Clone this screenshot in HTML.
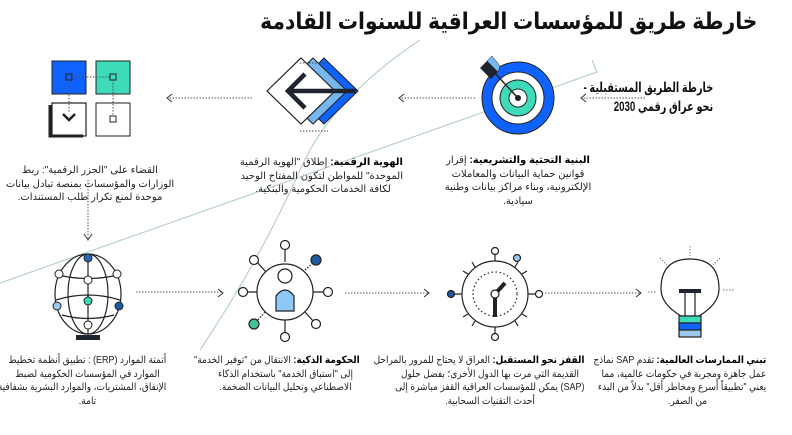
<!DOCTYPE html>
<html><head><meta charset="utf-8"><style>
body{margin:0;width:792px;height:435px;background:#fff;overflow:hidden;position:relative;font-family:"Liberation Sans","DejaVu Sans",sans-serif;}
.t{position:absolute;direction:rtl;text-align:center;font-size:10px;line-height:13.5px;color:#222;white-space:nowrap;}
.t b{color:#000}
.s{transform:scaleX(0.9);transform-origin:center top}
</style></head><body>
<svg width="792" height="435" style="position:absolute;left:0;top:0">
<path d="M0 283 L597 72 L592 60" stroke="#b8d4c0" stroke-width="1.2" fill="none"/>
<path d="M420 40 Q330 100 300 170 Q260 260 200 350" stroke="#b8d4c0" stroke-width="1.2" fill="none"/>
<rect x="52" y="61" width="34" height="33" fill="#0f62fe" stroke="#222" stroke-width="1"/>
<rect x="96" y="61" width="34" height="33" fill="#3ddbb9" stroke="#222" stroke-width="1"/>
<rect x="52" y="103" width="34" height="33" fill="#fff" stroke="#222" stroke-width="1.2"/>
<path d="M50 105 V136 H83" stroke="#222" stroke-width="3" fill="none"/>
<rect x="96" y="103" width="34" height="33" fill="#fff" stroke="#222" stroke-width="1"/>
<rect x="66" y="74" width="6" height="6" fill="none" stroke="#222"/>
<rect x="110" y="74" width="6" height="6" fill="none" stroke="#222"/>
<rect x="110" y="116" width="6" height="6" fill="none" stroke="#222"/>
<path d="M72 77 H110 M69 80 V112 M113 80 V116" stroke="#555" stroke-dasharray="1.5 1.5" fill="none"/>
<path d="M63 114 L69 120 L75 114" stroke="#222" stroke-width="2.5" fill="none"/>
<polygon points="324,58 358,91 324,124 290,91" fill="#0f62fe" stroke="#222"/>
<polygon points="313,58 347,91 313,124 279,91" fill="#78b6f0" stroke="#222"/>
<polygon points="301,58 335,91 301,124 267,91" fill="#fff" stroke="#222" stroke-width="1.2"/>
<path d="M305 74 L288 91 L305 108 M288 91 H356" stroke="#1f2430" stroke-width="4.5" fill="none"/>
<path d="M300 63 H328 M300 131 H328" stroke="#444" stroke-dasharray="1.5 1.5"/>
<circle cx="518" cy="98" r="36" fill="#0f62fe" stroke="#222"/>
<circle cx="518" cy="98" r="26" fill="#fff" stroke="#222"/>
<circle cx="518" cy="98" r="18" fill="#3ddbb9" stroke="#222"/>
<circle cx="518" cy="98" r="9" fill="#fff" stroke="#222"/>
<circle cx="518" cy="98" r="3" fill="#222"/>
<path d="M518 98 L492 70" stroke="#222" stroke-width="1.5"/>
<polygon points="480,68 487,61 498,72 491,79" fill="#1f2430"/>
<polygon points="487,61 492,56 500,66 498,72" fill="#78b6f0" stroke="#222" stroke-width=".5"/>
<g stroke="#555" stroke-dasharray="1.5 1.5" fill="none">
<path d="M645 98 H582 M475 98 H400 M252 98 H168 M88 180 V238 M136 292 H222 M345 293 H428 M545 293 H640"/>
</g>
<g stroke="#333" fill="none" stroke-width="1">
<path d="M586 94 L581 98 L586 102 M404 94 L399 98 L404 102 M172 94 L167 98 L172 102 M84 234 L88 240 L92 234 M218 289 L223 293 L218 297 M424 289 L429 293 L424 297 M636 289 L641 293 L636 297"/>
</g>
<g stroke="#222" stroke-width="1.2" fill="none">
<ellipse cx="88" cy="294" rx="33" ry="40"/>
<ellipse cx="88" cy="294" rx="20" ry="40"/>
<path d="M88 254 V334 M58 275 Q88 282 118 275 M56 300 Q88 290 120 300 M62 315 Q88 322 114 315"/>
</g>
<rect x="76" y="335" width="24" height="5" fill="#1f2430"/>
<g stroke="#222"><circle cx="88" cy="258" r="4" fill="#2a6ab8"/><circle cx="59" cy="274" r="4" fill="#fff"/><circle cx="117" cy="274" r="4" fill="#fff"/><circle cx="88" cy="280" r="4" fill="#fff"/><circle cx="88" cy="301" r="4" fill="#3ddbb9"/><circle cx="57" cy="306" r="4" fill="#9cc8f0"/><circle cx="119" cy="306" r="4" fill="#1f5aa6"/><circle cx="88" cy="325" r="4" fill="#fff"/></g>
<g stroke="#222" stroke-width="1.2">
<path d="M285 262 V248 M285 320 V334 M257 292 H246 M313 292 H324 M266 272 L257 262 M305 312 L314 322"/>
<path d="M305 270 L314 262 M265 312 L256 322" stroke-dasharray="1.5 1.5"/>
<circle cx="285" cy="292" r="28" fill="#fff"/>
<circle cx="285" cy="276" r="7" fill="#fff"/>
<path d="M276 311 V296 Q285 284 294 296 V311 Z" fill="#8ec8f6"/>
<circle cx="285" cy="245" r="4.5" fill="#fff"/><circle cx="285" cy="337" r="4.5" fill="#fff"/>
<circle cx="243" cy="292" r="4.5" fill="#fff"/><circle cx="328" cy="292" r="4.5" fill="#fff"/>
<circle cx="254" cy="260" r="4.5" fill="#fff"/><circle cx="316" cy="324" r="4.5" fill="#fff"/>
<circle cx="316" cy="260" r="5" fill="#1f5aa6"/><circle cx="254" cy="324" r="5" fill="#3ec09a"/>
</g>
<g stroke="#222" stroke-width="1.2">
<circle cx="495" cy="294" r="33" fill="#fff"/>
<circle cx="495" cy="294" r="22" fill="none" stroke-dasharray="1.5 2.5"/>
<path d="M495 261 V253 M495 327 V335 M462 294 H453 M528 294 H536"/>
<path d="M475 267 L472 262 M515 267 L518 262 M468 274 L463 271 M522 274 L527 271 M468 314 L463 317 M522 314 L527 317 M475 321 L472 326 M515 321 L518 326"/>
<path d="M495 294 V317" stroke-width="4"/><path d="M495 294 L505 283" stroke-width="4"/>
<circle cx="495" cy="294" r="4" fill="#fff"/>
<circle cx="495" cy="251" r="3.5" fill="#fff"/><circle cx="495" cy="337" r="3.5" fill="#fff"/>
<circle cx="451" cy="294" r="3.5" fill="#1f5aa6"/><circle cx="539" cy="294" r="3.5" fill="#fff"/>
<circle cx="517" cy="258" r="3.5" fill="#9cc8f0"/>
</g>
<g stroke="#222" stroke-width="1.2">
<path d="M681 316 Q661 304 661 289 Q661 259 690 259 Q719 259 719 289 Q719 304 699 316 Z" fill="#fff"/>
<path d="M685 292 V316 M695 292 V316"/>
<rect x="679" y="316" width="22" height="7" fill="#3ddbb9"/>
<rect x="679" y="323" width="22" height="7" fill="#0f62fe"/>
<rect x="679" y="330" width="22" height="7" fill="#9cc8f0"/>
</g>
<rect x="679" y="289" width="22" height="4" fill="#1f2430"/>
<g stroke="#777" stroke-dasharray="1.5 1.5"><path d="M690 246 V256 M660 258 L667 265 M720 258 L713 265 M723 290 H735 M648 292 H656"/></g>
</svg>
<div class="t" style="left:278px;top:4px;width:510px;font-size:23px;line-height:34px;font-weight:bold;color:#111;transform:scaleX(0.88);transform-origin:center top">خارطة طريق للمؤسسات العراقية للسنوات القادمة</div>
<div class="t" style="left:610px;top:78px;width:120px;font-size:13.5px;line-height:19px;font-weight:bold;color:#111;transform:scaleX(0.72);transform-origin:center top">خارطة الطريق المستقبلية -<br>نحو عراق رقمي 2030</div>
<div class="t" style="left:438px;top:154px;width:160px"><b>البنية التحتية والتشريعية:</b> إقرار<br>قوانين حماية البيانات والمعاملات<br>الإلكترونية، وبناء مراكز بيانات وطنية<br>سيادية.</div>
<div class="t" style="left:243px;top:156px;width:160px"><b>الهوية الرقمية:</b> إطلاق "الهوية الرقمية<br>الموحدة" للمواطن لتكون المفتاح الوحيد<br>لكافة الخدمات الحكومية والبنكية.</div>
<div class="t" style="left:5px;top:164px;width:170px">القضاء على "الجزر الرقمية": ربط<br>الوزارات والمؤسسات بمنصة تبادل بيانات<br>موحدة لمنع تكرار طلب المستندات.</div>
<div class="t s" style="left:0px;top:354px;width:175px">أتمتة الموارد (ERP) : تطبيق أنظمة تخطيط<br>الموارد في المؤسسات الحكومية لضبط<br>الإنفاق، المشتريات، والموارد البشرية بشفافية<br>تامة.</div>
<div class="t s" style="left:203px;top:354px;width:165px"><b>الحكومة الذكية:</b> الانتقال من "توفير الخدمة"<br>إلى "استباق الخدمة" باستخدام الذكاء<br>الاصطناعي وتحليل البيانات الضخمة.</div>
<div class="t s" style="left:385px;top:354px;width:210px"><b>القفز نحو المستقبل:</b> العراق لا يحتاج للمرور بالمراحل<br>القديمة التي مرت بها الدول الأخرى؛ بفضل حلول<br>(SAP) يمكن للمؤسسات العراقية القفز مباشرة إلى<br>أحدث التقنيات السحابية.</div>
<div class="t s" style="left:600px;top:354px;width:175px"><b>تبني الممارسات العالمية:</b> تقدم SAP نماذج<br>عمل جاهزة ومجربة في حكومات عالمية، مما<br>يعني "تطبيقاً أسرع ومخاطر أقل" بدلاً من البدء<br>من الصفر.</div>
</body></html>
